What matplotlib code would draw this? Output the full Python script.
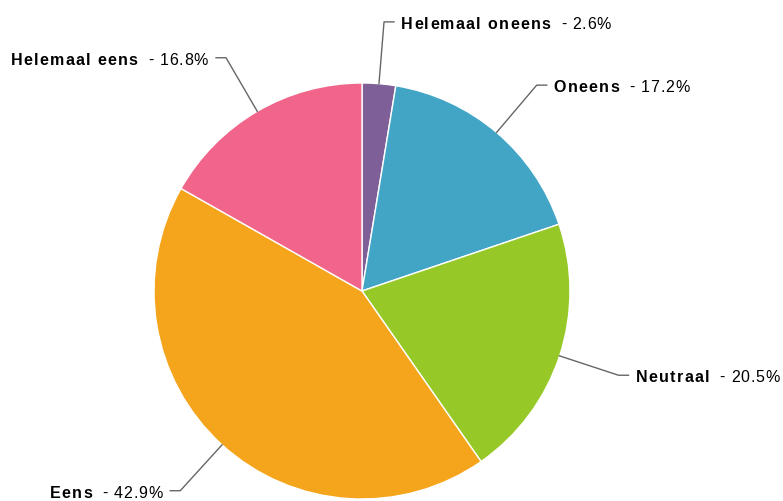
import matplotlib.pyplot as plt
from matplotlib.font_manager import FontProperties
import numpy as np

labels = ["Helemaal oneens", "Oneens", "Neutraal", "Eens", "Helemaal eens"]
values = [2.6, 17.2, 20.5, 42.9, 16.8]
colors = ["#7f5f98", "#42a5c6", "#96c928", "#f5a51b", "#f06589"]

plt.rcParams['font.family'] = ['Liberation Sans', 'DejaVu Sans']

W, H = 783, 502
fig = plt.figure(figsize=(W / 100, H / 100), dpi=100)
ax = fig.add_axes([0, 0, 1, 1])

cx, cy, r = 362, H - 292, 208
wedges, _ = ax.pie(values, colors=colors, startangle=90, counterclock=False,
                   center=(cx, cy), radius=r,
                   wedgeprops=dict(edgecolor='white', linewidth=1))
ax.set_xlim(0, W)
ax.set_ylim(0, H)
ax.set_aspect('equal')
ax.axis('off')

fig.canvas.draw()
renderer = fig.canvas.get_renderer()
FS = 11.5


def text_w(s, prop):
    return renderer.get_text_width_height_descent(s, prop, ismath=False)[0]


def spaced(x, y, s, weight, spacing, align='left'):
    # text with a little letter spacing, like the reference
    prop = FontProperties(family=['Liberation Sans'], weight=weight, size=FS)
    ref = text_w('x', prop)
    offs = [text_w(s[:i] + 'x', prop) - ref for i in range(len(s) + 1)]
    offs = [o + i * spacing for i, o in enumerate(offs)]
    total = offs[-1]
    start = x if align == 'left' else x - total
    for i, c in enumerate(s):
        if c != ' ':
            ax.text(start + offs[i], y, c, fontproperties=prop, color='black',
                    ha='left', va='baseline')
    return start, start + total


for w, name, val in zip(wedges, labels, values):
    mid = np.deg2rad((w.theta1 + w.theta2) / 2)
    x0, y0 = cx + r * np.cos(mid), cy + r * np.sin(mid)
    x1, y1 = cx + 270 * np.cos(mid), cy + 270 * np.sin(mid)
    side = 1 if np.cos(mid) >= 0 else -1
    x2 = x1 + side * 10
    ax.plot([x0, x1, x2], [y0, y1, y1], color='#666666', lw=1)
    tx = x2 + side * 7
    base = y1 - 6
    pct = f"- {val:.1f}%"
    if side > 0:
        _, e = spaced(tx, base, name, 'bold', 1.3)
        spaced(e + 9, base, pct, 'normal', 0.8)
    else:
        s, _ = spaced(tx, base, pct, 'normal', 0.8, align='right')
        spaced(s - 9, base, name, 'bold', 1.3, align='right')

fig.savefig('out.png', dpi=100)
